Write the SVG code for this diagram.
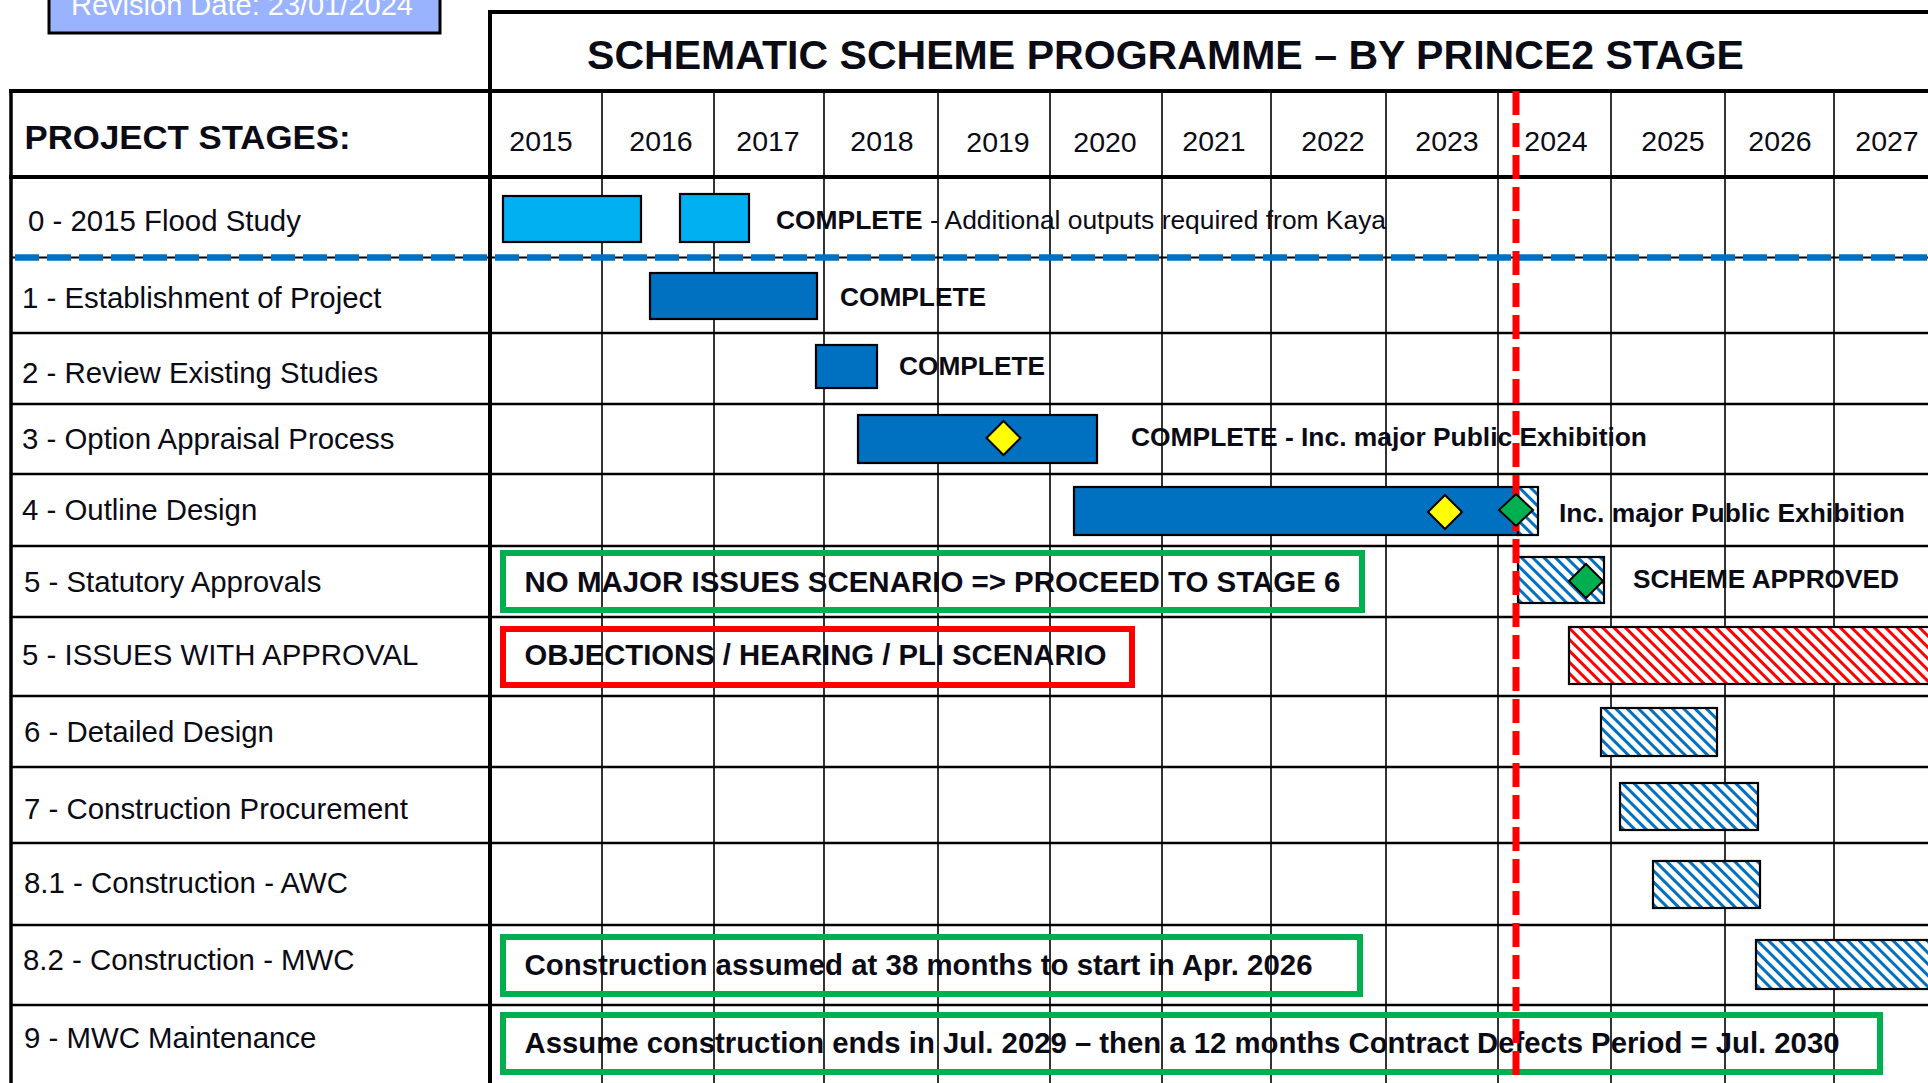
<svg xmlns="http://www.w3.org/2000/svg" width="1928" height="1083" viewBox="0 0 1928 1083">
<defs>
<style>
text{font-family:"Liberation Sans",Arial,sans-serif;fill:#0b0b16}
.b{font-weight:bold}
.yr{font-size:28.5px;text-anchor:middle}
.lbl{font-size:29.4px}
.note{font-size:26.4px;font-weight:bold}
.box{font-size:29px;font-weight:bold}
.thin{stroke:#000;stroke-width:1.6;fill:none}
.row{stroke:#000;stroke-width:2.4;fill:none}
.thick{stroke:#000;stroke-width:4;fill:none}
.bar{stroke:#000;stroke-width:2.2}
.cyan{fill:#00B0F0}
.blue{fill:#0070C0}
.hb{fill:url(#hatchBlue)}
.hr{fill:url(#hatchRed)}
.gbox{fill:none;stroke:#00B050;stroke-width:6}
.rbox{fill:none;stroke:#FF0000;stroke-width:6}
.dia{stroke:#000;stroke-width:2}
</style>
<pattern id="hatchBlue" patternUnits="userSpaceOnUse" width="8" height="8" patternTransform="rotate(-45)">
<rect width="8" height="8" fill="#fff"/><rect width="3" height="8" fill="#0070C0"/>
</pattern>
<pattern id="hatchRed" patternUnits="userSpaceOnUse" width="8" height="8" patternTransform="rotate(-45)">
<rect width="8" height="8" fill="#fff"/><rect width="3" height="8" fill="#FF0000"/>
</pattern>
</defs>
<rect width="1928" height="1083" fill="#fff"/>

<g id="revision">
<rect x="49" y="-10" width="391" height="43" fill="#99B3FF" stroke="#000" stroke-width="3"/>
<text x="71" y="15" style="font-size:29px;fill:#fff" textLength="342" lengthAdjust="spacingAndGlyphs">Revision Date: 23/01/2024</text>
</g>

<g id="grid">
<g class="thin">
<line x1="602" y1="91" x2="602" y2="1083"/>
<line x1="714" y1="91" x2="714" y2="1083"/>
<line x1="824" y1="91" x2="824" y2="1083"/>
<line x1="938" y1="91" x2="938" y2="1083"/>
<line x1="1050" y1="91" x2="1050" y2="1083"/>
<line x1="1162" y1="91" x2="1162" y2="1083"/>
<line x1="1271" y1="91" x2="1271" y2="1083"/>
<line x1="1386" y1="91" x2="1386" y2="1083"/>
<line x1="1498" y1="91" x2="1498" y2="1083"/>
<line x1="1611" y1="91" x2="1611" y2="1083"/>
<line x1="1725" y1="91" x2="1725" y2="1083"/>
<line x1="1834" y1="91" x2="1834" y2="1083"/>
</g>
<g class="row">
<line x1="11" y1="257.5" x2="1928" y2="257.5" stroke-width="2"/>
<line x1="11" y1="333" x2="1928" y2="333"/>
<line x1="11" y1="404" x2="1928" y2="404"/>
<line x1="11" y1="474" x2="1928" y2="474"/>
<line x1="11" y1="546" x2="1928" y2="546"/>
<line x1="11" y1="617" x2="1928" y2="617"/>
<line x1="11" y1="696" x2="1928" y2="696"/>
<line x1="11" y1="767" x2="1928" y2="767"/>
<line x1="11" y1="843" x2="1928" y2="843"/>
<line x1="11" y1="925" x2="1928" y2="925"/>
<line x1="11" y1="1005" x2="1928" y2="1005"/>
</g>
<g class="thick">
<line x1="489" y1="12" x2="1928" y2="12"/>
<line x1="9" y1="91" x2="1928" y2="91"/>
<line x1="9" y1="177" x2="1928" y2="177"/>
<line x1="490" y1="10" x2="490" y2="1083"/>
<line x1="11" y1="89" x2="11" y2="1083" stroke-width="3.5"/>
</g>
<line x1="15" y1="257.5" x2="1928" y2="257.5" stroke="#0070C0" stroke-width="6.5" stroke-dasharray="24 8"/>
</g>

<g id="title">
<text x="1165.5" y="68.5" class="b" style="font-size:40px" text-anchor="middle" textLength="1157" lengthAdjust="spacingAndGlyphs">SCHEMATIC SCHEME PROGRAMME – BY PRINCE2 STAGE</text>
</g>

<g id="header">
<text x="24.5" y="148.5" class="b" style="font-size:34px" textLength="326" lengthAdjust="spacingAndGlyphs">PROJECT STAGES:</text>
<text class="yr" x="541" y="151">2015</text>
<text class="yr" x="661" y="151">2016</text>
<text class="yr" x="768" y="151">2017</text>
<text class="yr" x="882" y="151">2018</text>
<text class="yr" x="998" y="152">2019</text>
<text class="yr" x="1105" y="152">2020</text>
<text class="yr" x="1214" y="151">2021</text>
<text class="yr" x="1333" y="151">2022</text>
<text class="yr" x="1447" y="151">2023</text>
<text class="yr" x="1556" y="151">2024</text>
<text class="yr" x="1673" y="151">2025</text>
<text class="yr" x="1780" y="151">2026</text>
<text class="yr" x="1887" y="151">2027</text>
</g>

<g id="stage0">
<text class="lbl" x="28" y="231">0 - 2015 Flood Study</text>
<rect class="bar cyan" x="503" y="196" width="138" height="46"/>
<rect class="bar cyan" x="680" y="194" width="69" height="48"/>
<text x="776" y="229" style="font-size:26.4px" textLength="610" lengthAdjust="spacingAndGlyphs"><tspan class="b">COMPLETE</tspan> - Additional outputs required from Kaya</text>
</g>

<g id="stage1">
<text class="lbl" x="22" y="308">1 - Establishment of Project</text>
<rect class="bar blue" x="650" y="273" width="167" height="46"/>
<text class="note" x="840" y="306" textLength="146" lengthAdjust="spacingAndGlyphs">COMPLETE</text>
</g>

<g id="stage2">
<text class="lbl" x="22" y="383">2 - Review Existing Studies</text>
<rect class="bar blue" x="816" y="345" width="61" height="43"/>
<text class="note" x="899" y="375" textLength="146" lengthAdjust="spacingAndGlyphs">COMPLETE</text>
</g>

<g id="stage3">
<text class="lbl" x="22" y="449">3 - Option Appraisal Process</text>
<rect class="bar blue" x="858" y="415" width="239" height="48"/>
<text class="note" x="1131" y="446" textLength="516" lengthAdjust="spacingAndGlyphs">COMPLETE - Inc. major Public Exhibition</text>
</g>

<g id="stage4">
<text class="lbl" x="22" y="520">4 - Outline Design</text>
<rect class="bar blue" x="1074" y="487" width="444" height="48"/>
<rect class="bar hb" x="1518" y="487" width="20" height="48"/>
<text class="note" x="1559" y="522" textLength="346" lengthAdjust="spacingAndGlyphs">Inc. major Public Exhibition</text>
</g>

<g id="stage5">
<text class="lbl" x="24" y="592">5 - Statutory Approvals</text>
<rect class="gbox" x="503" y="553" width="859" height="57"/>
<text class="box" x="524.5" y="592" textLength="816" lengthAdjust="spacingAndGlyphs">NO MAJOR ISSUES SCENARIO =&gt; PROCEED TO STAGE 6</text>
<rect class="bar hb" x="1518" y="557" width="86" height="46"/>
<text class="note" x="1633" y="588" textLength="266" lengthAdjust="spacingAndGlyphs">SCHEME APPROVED</text>
</g>

<g id="stage5-issues">
<text class="lbl" x="22" y="665">5 - ISSUES WITH APPROVAL</text>
<rect class="rbox" x="503" y="629" width="629" height="56"/>
<text class="box" x="524.5" y="665" textLength="582" lengthAdjust="spacingAndGlyphs">OBJECTIONS / HEARING / PLI SCENARIO</text>
<rect class="bar hr" x="1569" y="627" width="380" height="57"/>
</g>

<g id="stage6">
<text class="lbl" x="24" y="742">6 - Detailed Design</text>
<rect class="bar hb" x="1601" y="708" width="116" height="48"/>
</g>

<g id="stage7">
<text class="lbl" x="24" y="819">7 - Construction Procurement</text>
<rect class="bar hb" x="1620" y="783" width="138" height="47"/>
</g>

<g id="stage8-1">
<text class="lbl" x="24" y="893">8.1 - Construction - AWC</text>
<rect class="bar hb" x="1653" y="861" width="107" height="47"/>
</g>

<g id="stage8-2">
<text class="lbl" x="23" y="970">8.2 - Construction - MWC</text>
<rect class="gbox" x="503" y="937" width="857" height="57"/>
<text class="box" x="524.5" y="975" textLength="788" lengthAdjust="spacingAndGlyphs">Construction assumed at 38 months to start in Apr. 2026</text>
<rect class="bar hb" x="1756" y="940" width="190" height="49"/>
</g>

<g id="stage9">
<text class="lbl" x="24" y="1048">9 - MWC Maintenance</text>
<rect class="gbox" x="503" y="1015" width="1377" height="57"/>
<text class="box" x="524.5" y="1053" textLength="1315" lengthAdjust="spacingAndGlyphs">Assume construction ends in Jul. 2029 – then a 12 months Contract Defects Period = Jul. 2030</text>
</g>

<g id="today-line">
<line x1="1516" y1="91" x2="1516" y2="1083" stroke="#FF0000" stroke-width="7" stroke-dasharray="24 8"/>
</g>

<g id="milestones">
<polygon class="dia" points="1003.5,421 1020.5,438 1003.5,455 986.5,438" fill="#FFFF00"/>
<polygon class="dia" points="1445,495 1462,512 1445,529 1428,512" fill="#FFFF00"/>
<polygon class="dia" points="1516,494 1533,510 1516,526 1499,510" fill="#00B050"/>
<polygon class="dia" points="1586,564 1603,581 1586,598 1569,581" fill="#00B050"/>
</g>

<g id="connectors"></g>
</svg>
